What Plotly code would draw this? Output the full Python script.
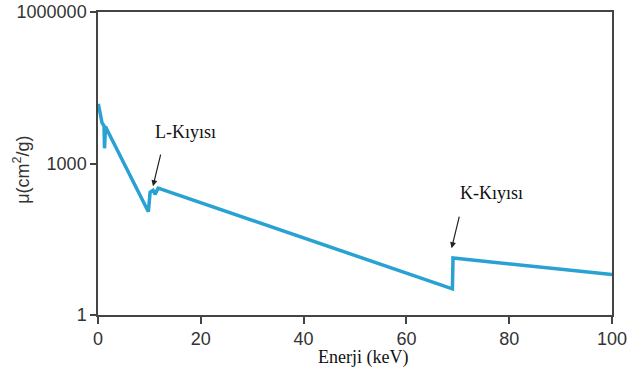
import math
import plotly.graph_objects as go

# Data (tungsten-like attenuation curve)
energy_kev = [0.06, 0.78, 1.17, 1.27, 1.46, 1.66, 9.8, 10.14, 10.72, 11.1, 11.7, 68.95, 69.07, 100]
mu_cm2_g = [15200, 6400, 5600, 2000, 5400, 4900, 111, 270, 295, 245, 325, 3.3, 13.5, 6.3]

x_ticks = [0, 20, 40, 60, 80, 100]
y_ticks = [1, 1000, 1000000]
y_ticktext = ["1", "1000", "1000000"]

edge_labels = ["L-Kıyısı", "K-Kıyısı"]
edge_label_x = [17.1, 76.5]
edge_label_y = [4300, 260]
edge_arrow_x = [10.7, 68.8]
edge_arrow_y = [355, 21]

fig = go.Figure()
fig.add_trace(go.Scatter(
    x=energy_kev, y=mu_cm2_g, mode="lines",
    line=dict(color="#29a2d3", width=3.5),
    showlegend=False, hoverinfo="skip"))

annotations = []
for lab, lx, ly, hx, hy in zip(edge_labels, edge_label_x, edge_label_y, edge_arrow_x, edge_arrow_y):
    annotations.append(dict(x=lx, y=math.log10(ly), xref="x", yref="y", text=lab,
                            showarrow=False, xanchor="center", yanchor="middle",
                            font=dict(family="Liberation Serif", size=18, color="#111")))
    annotations.append(dict(x=hx, y=math.log10(hy), xref="x", yref="y", text="",
                            showarrow=True, ax=8, ay=-33, arrowhead=2, arrowsize=1,
                            arrowwidth=1.2, arrowcolor="#222"))

annotations.append(dict(x=-0.148, y=0.479, xref="paper", yref="paper",
                        xanchor="center", yanchor="middle",
                        text="μ(cm<sup>2</sup>/g)", textangle=-90, showarrow=False,
                        font=dict(family="Liberation Sans", size=18, color="#333")))
annotations.append(dict(x=0.516, y=-0.139, xref="paper", yref="paper",
                        xanchor="center", yanchor="middle",
                        text="Enerji (keV)", showarrow=False,
                        font=dict(family="Liberation Serif", size=18, color="#111")))

fig.update_layout(
    width=630, height=378,
    margin=dict(l=98, r=18, t=12, b=63, autoexpand=False),
    paper_bgcolor="white", plot_bgcolor="white",
    annotations=annotations,
)
fig.update_xaxes(
    range=[0, 100], tickvals=x_ticks, showgrid=False, zeroline=False, automargin=False,
    showline=True, linecolor="#444", linewidth=1.5, mirror=True,
    ticks="outside", ticklen=7, tickcolor="#444", tickwidth=1.5,
    ticklabeloverflow="allow",
    tickfont=dict(family="Liberation Sans", size=18, color="#333"))
fig.update_yaxes(
    type="log", range=[0, 6], tickvals=y_ticks, ticktext=y_ticktext,
    showgrid=False, zeroline=False, automargin=False,
    showline=True, linecolor="#444", linewidth=1.5, mirror=True,
    ticks="outside", ticklen=6, tickcolor="#444", tickwidth=1.5,
    ticklabeloverflow="allow",
    tickfont=dict(family="Liberation Sans", size=18, color="#333"))

# remove the default 8px page margin so the figure sits at the window's corner
fig.write_html("out.html", config={"displayModeBar": False},
               post_script="document.body.style.margin='0px';")
